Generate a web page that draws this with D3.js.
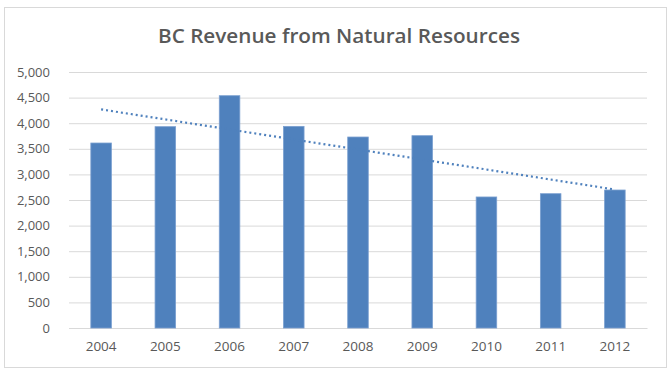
<!DOCTYPE html>
<html><head><meta charset="utf-8">
<script src="https://cdn.jsdelivr.net/npm/d3@7"></script>
<style>body{margin:0;background:#fff;}text{font-family:"Open Sans",sans-serif;}</style>
</head><body>
<svg id="c" width="672" height="377"></svg>
<script>
const years = ["2004","2005","2006","2007","2008","2009","2010","2011","2012"];
const revenue = [3613, 3932, 4537, 3938, 3730, 3756, 2559, 2623, 2695];
const yTicks = [0,500,1000,1500,2000,2500,3000,3500,4000,4500,5000];
const title = "BC Revenue from Natural Resources";

const svg = d3.select("#c");
svg.append("rect").attr("x",4.5).attr("y",7.5).attr("width",662).attr("height",360)
  .attr("fill","#fff").attr("stroke","#d9d9d9");

const m = {left:69, right:647, top:72, bottom:328};
const x = d3.scaleBand().domain(years).range([m.left,m.right]).paddingInner(0.68).paddingOuter(0.34);
const y = d3.scaleLinear().domain([0,5000]).range([m.bottom,m.top]);

svg.append("text").attr("x",339).attr("y",43).attr("text-anchor","middle")
  .attr("font-size",20).attr("font-weight",600).attr("fill","#595959")
  .attr("textLength",362).attr("lengthAdjust","spacingAndGlyphs").text(title);

const yAxis = d3.axisLeft(y).tickValues(yTicks).tickSize(-(m.right-m.left)).tickPadding(19)
  .tickFormat(d3.format(","));
const gy = svg.append("g").attr("transform",`translate(${m.left},0)`).call(yAxis);
gy.select(".domain").remove();
gy.selectAll(".tick line").attr("stroke","#d9d9d9");
gy.selectAll(".tick text").attr("fill","#595959").attr("font-size",13);

const xAxis = d3.axisBottom(x).tickSize(0).tickPadding(13);
const gx = svg.append("g").attr("transform",`translate(0,${m.bottom})`).call(xAxis);
gx.select(".domain").attr("stroke","#d9d9d9");
gx.selectAll(".tick text").attr("fill","#595959").attr("font-size",13.5);

svg.append("g").selectAll("rect").data(revenue).join("rect")
  .attr("x",(d,i)=>x(years[i])).attr("width",x.bandwidth())
  .attr("y",d=>y(d)).attr("height",d=>y(0)-y(d))
  .attr("fill","#4f81bd").attr("stroke","#7a9fd0").attr("stroke-width",0.8);

// linear trendline (least squares)
const n = revenue.length;
const mx = d3.mean(revenue,(d,i)=>i), my = d3.mean(revenue);
const slope = d3.sum(revenue,(d,i)=>(i-mx)*(d-my))/d3.sum(revenue,(d,i)=>(i-mx)*(i-mx));
const icpt = my - slope*mx;
const cx = i => x(years[i]) + x.bandwidth()/2;
svg.append("line")
  .attr("x1",cx(0)).attr("y1",y(icpt))
  .attr("x2",cx(n-1)).attr("y2",y(icpt+slope*(n-1)))
  .attr("stroke","#4f81bd").attr("stroke-width",2.2)
  .attr("stroke-dasharray","2 3");
</script>
</body></html>
